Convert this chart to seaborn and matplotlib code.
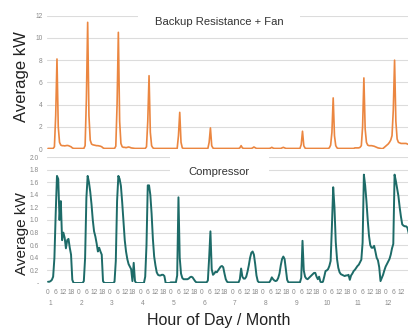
import numpy as np
import pandas as pd
import matplotlib
matplotlib.use("Agg")
import matplotlib.pyplot as plt
from matplotlib.patches import Rectangle
import seaborn as sns

# ---------------- data ----------------
months = list(range(1, 13))
hours = list(range(24))
hour_tick_labels = ["0", "6", "12", "18"]
month_tick_labels = [str(m) for m in months]

title_top = "Backup Resistance + Fan"
title_bottom = "Compressor"
y_label = "Average kW"
x_label = "Hour of Day / Month"

top_yticks = [0, 2, 4, 6, 8, 10, 12]
top_yticklabels = ["0", "2", "4", "6", "8", "10", "12"]
bottom_yticks = [0.0, 0.2, 0.4, 0.6, 0.8, 1.0, 1.2, 1.4, 1.6, 1.8, 2.0]
bottom_yticklabels = ["-", "0.2", "0.4", "0.6", "0.8", "1.0", "1.2", "1.4", "1.6", "1.8", "2.0"]

# hourly averages, month 1 .. 12 (24 values each)
backup_kw = [
    0.05, 0.05, 0.05, 0.05, 0.05, 0.2, 3.0, 8.1, 2.0, 0.6, 0.35, 0.3, 0.3, 0.28, 0.3, 0.32, 0.3, 0.25, 0.2, 0.1, 0.05, 0.05, 0.05, 0.05,
    0.05, 0.05, 0.05, 0.05, 0.05, 0.3, 4.5, 11.4, 3.0, 0.8, 0.45, 0.38, 0.35, 0.33, 0.3, 0.3, 0.28, 0.25, 0.2, 0.1, 0.05, 0.05, 0.05, 0.05,
    0.05, 0.05, 0.05, 0.05, 0.05, 0.25, 4.0, 10.5, 2.5, 0.5, 0.2, 0.15, 0.15, 0.12, 0.15, 0.18, 0.15, 0.1, 0.08, 0.05, 0.05, 0.05, 0.05, 0.05,
    0.05, 0.05, 0.05, 0.05, 0.05, 0.2, 2.5, 6.6, 1.5, 0.3, 0.1, 0.05, 0.05, 0.05, 0.05, 0.05, 0.05, 0.05, 0.05, 0.05, 0.05, 0.05, 0.05, 0.05,
    0.05, 0.05, 0.05, 0.05, 0.05, 0.05, 1.2, 3.3, 0.6, 0.1, 0.05, 0.05, 0.05, 0.05, 0.05, 0.05, 0.05, 0.05, 0.05, 0.05, 0.05, 0.05, 0.05, 0.05,
    0.05, 0.05, 0.05, 0.05, 0.05, 0.05, 0.6, 1.9, 0.3, 0.08, 0.05, 0.05, 0.05, 0.05, 0.05, 0.05, 0.05, 0.05, 0.05, 0.05, 0.05, 0.05, 0.05, 0.05,
    0.05, 0.05, 0.05, 0.05, 0.05, 0.05, 0.1, 0.3, 0.1, 0.05, 0.05, 0.05, 0.05, 0.05, 0.05, 0.05, 0.1, 0.18, 0.12, 0.05, 0.05, 0.05, 0.05, 0.05,
    0.05, 0.05, 0.05, 0.05, 0.05, 0.05, 0.08, 0.15, 0.08, 0.05, 0.05, 0.05, 0.05, 0.05, 0.05, 0.1, 0.15, 0.1, 0.05, 0.05, 0.05, 0.05, 0.05, 0.05,
    0.05, 0.05, 0.05, 0.05, 0.05, 0.05, 0.4, 1.6, 0.3, 0.08, 0.05, 0.05, 0.05, 0.05, 0.05, 0.05, 0.05, 0.05, 0.05, 0.05, 0.05, 0.05, 0.05, 0.05,
    0.05, 0.05, 0.05, 0.05, 0.1, 0.35, 1.5, 4.6, 1.2, 0.3, 0.1, 0.05, 0.05, 0.05, 0.05, 0.05, 0.05, 0.05, 0.05, 0.05, 0.05, 0.05, 0.05, 0.05,
    0.1, 0.1, 0.1, 0.1, 0.15, 0.3, 2.0, 6.4, 1.8, 0.6, 0.35, 0.3, 0.3, 0.3, 0.28, 0.25, 0.2, 0.15, 0.1, 0.08, 0.05, 0.03, 0.05, 0.15,
    0.25, 0.35, 0.45, 0.6, 0.8, 1.2, 3.5, 8.0, 2.5, 0.9, 0.6, 0.55, 0.5, 0.5, 0.5, 0.5, 0.5, 0.45, 0.4, 0.35, 0.3, 0.25, 0.2, 0.15,
]

compressor_kw = [
    0.02, 0.02, 0.03, 0.05, 0.1, 0.4, 1.1, 1.7, 1.65, 1.0, 1.3, 0.68, 0.8, 0.72, 0.55, 0.68, 0.7, 0.56, 0.45, 0.05, 0.0, 0.0, 0.0, 0.0,
    0.0, 0.0, 0.0, 0.0, 0.03, 0.4, 1.35, 1.7, 1.6, 1.45, 1.25, 1.0, 0.82, 0.74, 0.63, 0.5, 0.56, 0.5, 0.45, 0.03, 0.0, 0.0, 0.0, 0.0,
    0.0, 0.0, 0.0, 0.0, 0.02, 0.35, 1.3, 1.7, 1.65, 1.54, 1.28, 0.98, 0.68, 0.5, 0.38, 0.3, 0.26, 0.22, 0.03, 0.32, 0.03, 0.0, 0.0, 0.0,
    0.0, 0.0, 0.0, 0.0, 0.1, 0.6, 1.55, 1.55, 1.4, 1.1, 0.7, 0.42, 0.28, 0.17, 0.13, 0.12, 0.12, 0.13, 0.13, 0.11, 0.0, 0.0, 0.0, 0.0,
    0.01, 0.01, 0.01, 0.01, 0.01, 0.12, 1.36, 0.4, 0.15, 0.08, 0.06, 0.06, 0.06, 0.06, 0.07, 0.09, 0.1, 0.09, 0.06, 0.03, 0.01, 0.01, 0.01, 0.01,
    0.01, 0.01, 0.01, 0.01, 0.01, 0.04, 0.4, 0.82, 0.22, 0.13, 0.15, 0.18, 0.17, 0.2, 0.23, 0.26, 0.27, 0.25, 0.15, 0.06, 0.02, 0.01, 0.01, 0.01,
    0.01, 0.01, 0.01, 0.01, 0.01, 0.01, 0.06, 0.23, 0.1, 0.07, 0.07, 0.1, 0.18, 0.28, 0.4, 0.48, 0.5, 0.45, 0.3, 0.12, 0.03, 0.01, 0.01, 0.01,
    0.01, 0.01, 0.01, 0.01, 0.01, 0.01, 0.04, 0.09, 0.06, 0.04, 0.03, 0.04, 0.08, 0.15, 0.28, 0.38, 0.42, 0.38, 0.22, 0.05, 0.01, 0.01, 0.01, 0.01,
    0.01, 0.01, 0.01, 0.01, 0.01, 0.01, 0.08, 0.67, 0.2, 0.1, 0.07, 0.06, 0.08, 0.1, 0.12, 0.14, 0.16, 0.16, 0.1, 0.06, 0.1, 0.02, 0.01, 0.02,
    0.1, 0.19, 0.2, 0.22, 0.27, 0.35, 0.9, 1.52, 1.2, 0.65, 0.38, 0.24, 0.17, 0.14, 0.13, 0.12, 0.11, 0.12, 0.12, 0.13, 0.05, 0.12, 0.15, 0.19,
    0.21, 0.24, 0.27, 0.29, 0.33, 0.37, 0.64, 1.72, 1.55, 1.3, 1.0, 0.75, 0.6, 0.56, 0.56, 0.59, 0.5, 0.4, 0.36, 0.25, 0.03, 0.08, 0.13, 0.2,
    0.26, 0.3, 0.34, 0.38, 0.45, 0.55, 0.62, 1.72, 1.62, 1.5, 1.38, 1.2, 1.05, 0.93, 0.91, 0.9, 0.9, 0.88, 0.8, 0.7, 0.55, 0.4, 0.3, 0.2,
]

df = pd.DataFrame({
    "step": np.arange(len(months) * len(hours)),
    "month": np.repeat(months, len(hours)),
    "hour": np.tile(hours, len(months)),
    "backup": backup_kw,
    "compressor": compressor_kw,
})

# ---------------- style ----------------
sns.set_theme(style="white")
plt.rcParams["font.family"] = ["Liberation Sans", "DejaVu Sans"]

W, H = 408, 329
fig = plt.figure(figsize=(W / 100, H / 100), dpi=100)
fig.patch.set_facecolor("white")

def fx(px):
    return px / W

def fy(py):
    return 1 - py / H

ax_top = fig.add_axes([fx(47), fy(149), fx(361), 133.3 / H])
ax_bot = fig.add_axes([fx(47), fy(283), fx(361), 126 / H])

ORANGE = "#EB8640"
TEAL = "#1D6B68"
GRID = "#dcdcdc"
TICK = "#8a8a8a"
XMAX = 281.5

sns.lineplot(data=df, x="step", y="backup", ax=ax_top, color=ORANGE, linewidth=1.2, zorder=3)
sns.lineplot(data=df, x="step", y="compressor", ax=ax_bot, color=TEAL, linewidth=1.4, zorder=3)

for ax in (ax_top, ax_bot):
    ax.set_xlim(-0.8, XMAX)
    ax.set_xlabel("")
    ax.set_ylabel("")
    for s in ax.spines.values():
        s.set_visible(False)
    ax.set_axisbelow(True)
    ax.yaxis.grid(True, color=GRID, linewidth=0.8)
    ax.xaxis.grid(False)
    ax.set_facecolor("white")

ax_top.set_ylim(0, 12)
ax_top.set_yticks(top_yticks)
ax_top.set_yticklabels(top_yticklabels, fontsize=4.8, color=TICK)
ax_top.tick_params(axis="y", length=0, pad=3)
ax_top.set_xticks([])

ax_bot.set_ylim(0, 2.0)
ax_bot.set_yticks(bottom_yticks)
ax_bot.set_yticklabels(bottom_yticklabels, fontsize=4.8, color=TICK)
ax_bot.tick_params(axis="y", length=0, pad=6)

all_major = list(range(0, len(df), 6))
all_labels = hour_tick_labels * len(months)
major_pos = [p for p in all_major if p < XMAX - 3]
ax_bot.set_xticks(major_pos)
ax_bot.set_xticklabels(all_labels[:len(major_pos)], fontsize=4.8, color=TICK)
minor_pos = [24 * i + 2 for i in range(len(months))]
ax_bot.set_xticks(minor_pos, minor=True)
ax_bot.set_xticklabels(month_tick_labels, minor=True, fontsize=4.8, color=TICK)
ax_bot.tick_params(axis="x", which="major", length=0, pad=4)
ax_bot.tick_params(axis="x", which="minor", length=0, pad=12)

# title boxes (white background hiding gridlines)
ax_top.add_patch(Rectangle((fx(138), fy(33)), fx(162), 27 / H, transform=fig.transFigure,
                           facecolor="white", edgecolor="none", zorder=1, clip_on=False))
ax_bot.add_patch(Rectangle((fx(170), fy(179)), fx(99), 29 / H, transform=fig.transFigure,
                           facecolor="white", edgecolor="none", zorder=1, clip_on=False))

fig.text(fx(219.5), fy(21.7), title_top, ha="center", va="center", fontsize=8.1, color="#333333")
fig.text(fx(219), fy(171.7), title_bottom, ha="center", va="center", fontsize=8.1, color="#333333")

fig.text(fx(22), fy(77), y_label, rotation=90, ha="center", va="center", fontsize=12, color="#222222")
fig.text(fx(22), fy(234), y_label, rotation=90, ha="center", va="center", fontsize=11, color="#222222")
fig.text(fx(219), fy(321), x_label, ha="center", va="center", fontsize=11.5, color="#222222")

fig.savefig("out.png", dpi=100, facecolor="white")
